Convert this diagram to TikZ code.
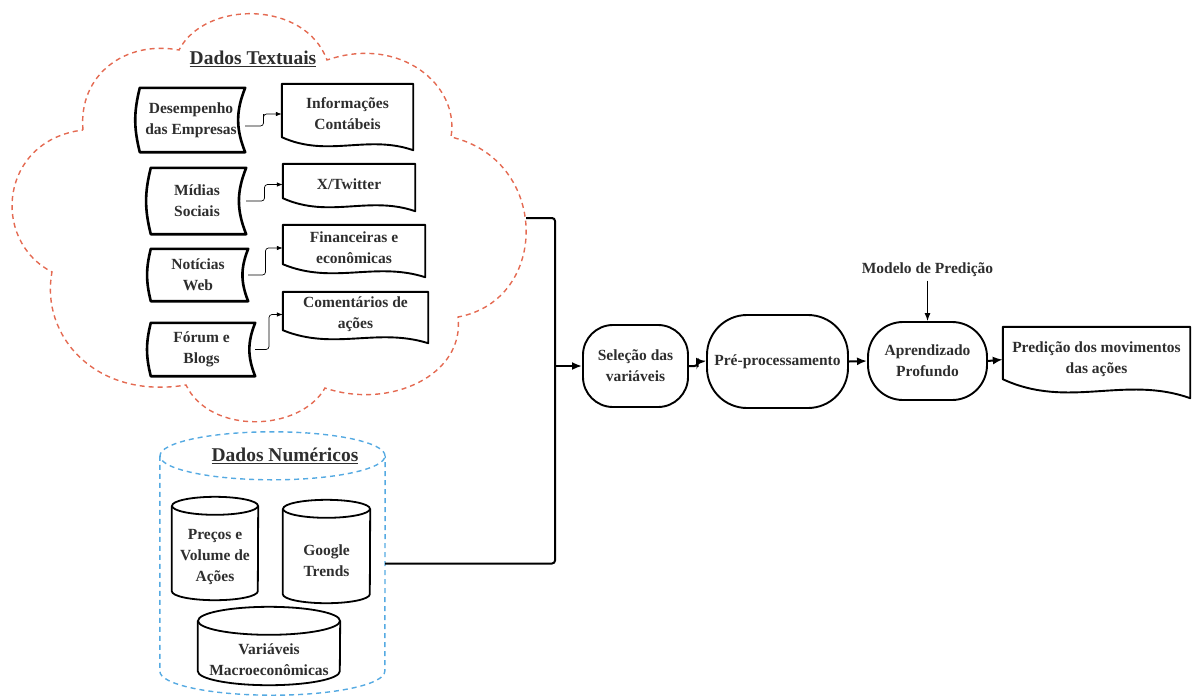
\documentclass[tikz,border=0pt]{standalone}
\usepackage{fontspec}
\setmainfont{Liberation Serif}[BoldFont={Liberation Serif Bold}]
\usetikzlibrary{positioning,calc,arrows,arrows.meta}

\definecolor{nuvemcor}{HTML}{E46A52}
\definecolor{cilcor}{HTML}{55AAE2}
\definecolor{textocor}{HTML}{2E2E2E}

% stored data outline around a named node
\newcommand{\armazem}[1]{%
  \draw[line width=2.6pt, line join=round] ([xshift=3pt]#1.north west) -- (#1.north east)
    to[bend right=22] (#1.south east) -- ([xshift=3pt]#1.south west)
    to[bend left=14] ([xshift=3pt]#1.north west) -- cycle;}
% document outline (wavy bottom) around a named node
\newcommand{\documento}[2]{%
  \draw[line width=1.9pt, line join=round] ($(#1.south west)+(0,{6-#2})$) -- (#1.north west) -- (#1.north east)
    -- ($(#1.south east)+(0,6)$)
    .. controls ($(#1.south east)!0.35!(#1.south west)+(0,{6-1.23*#2})$)
       and ($(#1.south east)!0.65!(#1.south west)+(0,{6+0.6*#2})$)
    .. ($(#1.south west)+(0,{6-#2})$) -- cycle;}
% cylinder outline around a named node
\newcommand{\cilindro}[4][]{%
  \draw[#1] ($(#2.north)+(0,-#4)$) ellipse[x radius=#3pt, y radius=#4pt];
  \draw[#1] ($(#2.north west)+(0,-#4)$) -- ($(#2.south west)+(0,-#4)$)
    arc[start angle=180, end angle=360, x radius=#3pt, y radius=#4pt]
    -- ($(#2.north east)+(0,-#4)$);}

\begin{document}
\begin{tikzpicture}[x=1pt, y=-1pt,
     % define styles
     texto/.style={
         font=\fontsize{15.5}{21}\selectfont\bfseries,
         text=textocor,
         align=center
     },
     titulo/.style={
         font=\fontsize{19.5}{24}\selectfont\bfseries,
         text=textocor
     },
     caixa/.style={texto, inner sep=0pt},
     folha/.style={texto, inner sep=0pt},
     etapa/.style={
         texto, draw, line width=1.9pt,
         rounded corners=30pt, inner sep=0pt
     },
     nuvem/.style={draw=nuvemcor, line width=1.4pt, dash pattern=on 5pt off 4pt},
     cilborda/.style={draw=cilcor, line width=1.4pt, dash pattern=on 5pt off 4pt},
     linha/.style={line width=1.8pt},
     ligacao/.style={-{Latex[length=6pt,width=4.5pt]}, line width=0.7pt, rounded corners=3pt},
     fluxo/.style={line width=2pt, rounded corners=3pt},
     >={Latex[length=10pt,width=8pt]}
]
\useasboundingbox (0,0) rectangle (1193,697);

% cloud of textual data
\draw[nuvem] (83,130) .. controls (78,75) and (125,40) .. (179,50)
    .. controls (205,0) and (305,0) .. (327,60)
    .. controls (400,35) and (460,85) .. (451,137)
    .. controls (550,160) and (550,300) .. (458,317)
    .. controls (465,375) and (390,410) .. (325,388)
    .. controls (300,432) and (210,435) .. (186,385)
    .. controls (95,400) and (40,335) .. (52,272)
    .. controls (-10,240) and (0,140) .. cycle;
\node[titulo] (titulotex) at (253,59) {\underline{Dados Textuais}};

% sources
\node[caixa, minimum width=108pt, minimum height=64pt] (desempenho) at (191,120) {Desempenho\\das Empresas};
\node[caixa, minimum width=98pt, minimum height=66pt] (midias) at (197,201) {Mídias\\Sociais};
\node[caixa, minimum width=100pt, minimum height=52pt] (noticias) at (198,275) {Notícias\\Web};
\node[caixa, minimum width=107pt, minimum height=53pt] (forum) at (201.5,349.5) {Fórum e\\Blogs};
\foreach \n in {desempenho,midias,noticias,forum} {\armazem{\n}}

% documents
\node[folha, minimum width=131pt, minimum height=60pt] (informacoes) at (347.5,114) {Informações\\Contábeis};
\node[folha, minimum width=132pt, minimum height=41pt] (twitter) at (349,184.5) {X/Twitter};
\node[folha, minimum width=142pt, minimum height=46pt] (financeiras) at (354,248) {Financeiras e\\econômicas};
\node[folha, minimum width=145pt, minimum height=45pt] (comentarios) at (355.5,314.5) {Comentários de\\ações};
\foreach \n in {informacoes,twitter,financeiras,comentarios} {\documento{\n}{13}}

\draw[ligacao] ([yshift=-6pt]desempenho.east) -| ($(desempenho.east)!.5!(informacoes.west)$) |- (informacoes.west);
\draw[ligacao] (midias.east) -| ($(midias.east)!.5!(twitter.west)$) |- (twitter.west);
\draw[ligacao] (noticias.east) -| ($(noticias.east)!.5!(financeiras.west)$) |- (financeiras.west);
\draw[ligacao] (forum.east) -| ($(forum.east)!.5!(comentarios.west)$) |- (comentarios.west);

% numerical data
\node[inner sep=0pt, minimum width=225pt, minimum height=215pt] (numericos) at (272.5,587.5) {};
\cilindro[cilborda]{numericos}{112.5}{24}
\node[titulo] (titulonum) at (285,456) {\underline{Dados Numéricos}};
\node[caixa, minimum width=86pt, minimum height=85pt] (precos) at (215,557.5) {Preços e\\Volume de\\Ações};
\node[caixa, minimum width=87pt, minimum height=85pt] (google) at (326.5,560.5) {Google\\Trends};
\node[caixa, minimum width=142pt, minimum height=50pt] (variaveis) at (269,660) {Variáveis\\Macroeconômicas};
\cilindro[linha]{precos}{43}{9}
\cilindro[linha]{google}{43.5}{9}
\cilindro[linha]{variaveis}{71}{14}

% pipeline
\node[etapa, minimum width=105pt, minimum height=82pt] (selecao) at (635.5,366) {Seleção das\\variáveis};
\node[etapa, minimum width=141pt, minimum height=93pt, rounded corners=40pt] (preproc) at (777.5,361.5) {Pré-processamento};
\node[etapa, minimum width=119pt, minimum height=78pt, rounded corners=35pt] (aprendizado) at (927.5,361) {Aprendizado\\Profundo};
\node[folha, minimum width=187pt, minimum height=65pt] (predicao) at (1096.5,359.5) {Predição dos movimentos\\das ações};
\documento{predicao}{19}
\node[texto] (modelo) at (927.5,270) {Modelo de Predição};

\coordinate (nuvemsai) at (526,218);
\coordinate (juncao) at (555,366);
\draw[fluxo] (nuvemsai) -| (juncao);
\draw[fluxo] ([yshift=24pt]numericos.east) -| (juncao);
\draw[fluxo,->] (juncao) -- (selecao.west);
\draw[fluxo,->] (selecao.east) -| ($(selecao.east)!.5!(preproc.west)$) |- (preproc.west);
\draw[fluxo,->] (preproc.east) -- (aprendizado.west);
\draw[fluxo,->] (aprendizado.east) -- (predicao.west);
\draw[-{Latex[length=8pt,width=6pt]}, line width=1.1pt] (modelo) -- (aprendizado);
\end{tikzpicture}
\end{document}
